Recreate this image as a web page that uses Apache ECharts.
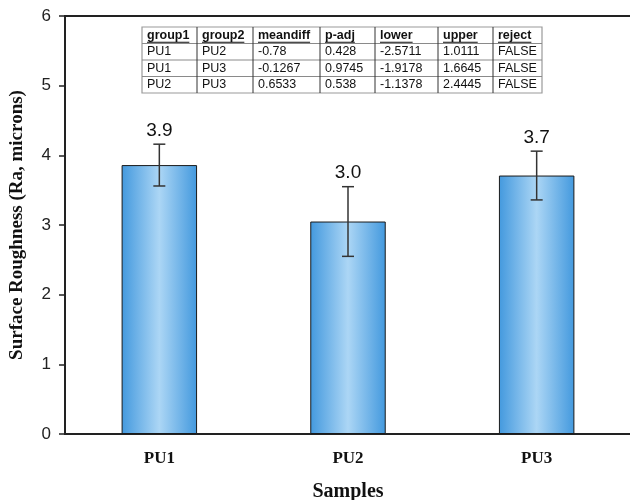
<!DOCTYPE html>
<html>
<head>
<meta charset="utf-8">
<script src="https://cdn.jsdelivr.net/npm/echarts@6/dist/echarts.min.js"></script>
<style>
  html, body { margin: 0; padding: 0; background: #fff; }
  #chart { width: 630px; height: 500px; }
</style>
</head>
<body>
<div id="chart"></div>
<script>
// Data
const samples = ['PU1', 'PU2', 'PU3'];
const roughness = [3.86, 3.05, 3.71];
const roughnessErr = [0.30, 0.50, 0.35];
const valueLabels = ['3.9', '3.0', '3.7'];
const yTicks = [0, 1, 2, 3, 4, 5, 6];

// Tukey table inset
const tableHeader = ['group1', 'group2', 'meandiff', 'p-adj', 'lower', 'upper', 'reject'];
const tableRows = [
  ['PU1', 'PU2', '-0.78', '0.428', '-2.5711', '1.0111', 'FALSE'],
  ['PU1', 'PU3', '-0.1267', '0.9745', '-1.9178', '1.6645', 'FALSE'],
  ['PU2', 'PU3', '0.6533', '0.538', '-1.1378', '2.4445', 'FALSE']
];

const chart = echarts.init(document.getElementById('chart'));

// Build table graphic
const colX = [142, 197, 253, 320, 375, 438, 493, 542];
const rowY = [27, 43.5, 60, 76.5, 93];
const tableFont = '12.5px "Liberation Sans", Arial, sans-serif';
const headFont = 'bold 12.5px "Liberation Sans", Arial, sans-serif';
const measure = document.createElement('canvas').getContext('2d');

const tableEls = [];
tableEls.push({
  type: 'rect',
  shape: { x: colX[0], y: rowY[0], width: colX[7] - colX[0], height: rowY[4] - rowY[0] },
  style: { fill: '#fff', stroke: '#9a9a9a', lineWidth: 1.2 },
  z: 10
});
for (let i = 1; i < rowY.length - 1; i++) {
  tableEls.push({
    type: 'line',
    shape: { x1: colX[0], y1: rowY[i], x2: colX[7], y2: rowY[i] },
    style: { stroke: '#8a8a8a', lineWidth: 1 },
    z: 11
  });
}
for (let j = 1; j < colX.length - 1; j++) {
  tableEls.push({
    type: 'line',
    shape: { x1: colX[j], y1: rowY[0], x2: colX[j], y2: rowY[4] },
    style: { stroke: '#333', lineWidth: 1 },
    z: 11
  });
}
const allRows = [tableHeader].concat(tableRows);
allRows.forEach((row, r) => {
  row.forEach((cell, c) => {
    const font = r === 0 ? headFont : tableFont;
    const tx = colX[c] + 5;
    const ty = (rowY[r] + rowY[r + 1]) / 2;
    tableEls.push({
      type: 'text',
      style: {
        x: tx, y: ty, text: cell, font: font, fill: '#111',
        textAlign: 'left', textVerticalAlign: 'middle'
      },
      z: 12
    });
    if (r === 0) {
      measure.font = font;
      const w = measure.measureText(cell).width;
      tableEls.push({
        type: 'line',
        shape: { x1: tx, y1: ty + 7, x2: tx + w, y2: ty + 7 },
        style: { stroke: '#111', lineWidth: 1 },
        z: 12
      });
    }
  });
});

const barGradient = new echarts.graphic.LinearGradient(0, 0, 1, 0, [
  { offset: 0, color: '#4399de' },
  { offset: 0.5, color: '#acd6f5' },
  { offset: 1, color: '#4399de' }
]);

const option = {
  animation: false,
  backgroundColor: '#fff',
  grid: {
    left: 65, top: 16, bottom: 66, right: -1,
    outerBoundsMode: 'none',
    containLabel: false,
    show: true, borderColor: '#222', borderWidth: 2
  },
  xAxis: [
    {
      type: 'category',
      data: samples,
      name: 'Samples',
      nameLocation: 'middle',
      nameGap: 48,
      nameTextStyle: { fontFamily: '"Liberation Serif", "Times New Roman", serif', fontWeight: 'bold', fontSize: 20, color: '#111' },
      axisLine: { lineStyle: { color: '#222', width: 2 } },
      axisTick: { alignWithLabel: true, length: 6, lineStyle: { color: '#222', width: 1.5 } },
      axisLabel: { margin: 16, fontFamily: '"Liberation Serif", "Times New Roman", serif', fontWeight: 'bold', fontSize: 17, color: '#111' }
    },
    {
      type: 'category',
      data: samples,
      position: 'bottom',
      axisLine: { show: false },
      axisTick: { length: 4, lineStyle: { color: '#222', width: 1.5 } },
      axisLabel: { show: false }
    }
  ],
  yAxis: {
    type: 'value',
    min: yTicks[0],
    max: yTicks[yTicks.length - 1],
    interval: 1,
    name: 'Surface Roughness (Ra, microns)',
    nameLocation: 'middle',
    nameGap: 38,
    nameTextStyle: { fontFamily: '"Liberation Serif", "Times New Roman", serif', fontWeight: 'bold', fontSize: 19, color: '#111' },
    axisLine: { show: true, lineStyle: { color: '#222', width: 2 } },
    axisTick: { show: true, length: 6, lineStyle: { color: '#222', width: 1.5 } },
    axisLabel: { margin: 14, fontFamily: '"Liberation Sans", Arial, sans-serif', fontSize: 17, color: '#222' },
    splitLine: { show: false }
  },
  series: [
    {
      type: 'bar',
      data: roughness,
      barWidth: '40%',
      itemStyle: { color: barGradient, borderColor: '#1a1a1a', borderWidth: 1 },
      z: 2
    },
    {
      type: 'custom',
      data: roughness.map((v, i) => [i, v, roughnessErr[i]]),
      renderItem: function (params, api) {
        const i = api.value(0);
        const v = api.value(1);
        const e = api.value(2);
        const top = api.coord([i, v + e]);
        const bot = api.coord([i, v - e]);
        const hw = 6;
        return {
          type: 'group',
          children: [
            { type: 'line', shape: { x1: top[0], y1: top[1], x2: bot[0], y2: bot[1] }, style: { stroke: '#333', lineWidth: 1.5 } },
            { type: 'line', shape: { x1: top[0] - hw, y1: top[1], x2: top[0] + hw, y2: top[1] }, style: { stroke: '#333', lineWidth: 1.5 } },
            { type: 'line', shape: { x1: bot[0] - hw, y1: bot[1], x2: bot[0] + hw, y2: bot[1] }, style: { stroke: '#333', lineWidth: 1.5 } },
            {
              type: 'text',
              style: {
                x: top[0], y: top[1] - 4, text: valueLabels[params.dataIndex],
                font: '19px "Liberation Sans", Arial, sans-serif', fill: '#111',
                textAlign: 'center', textVerticalAlign: 'bottom'
              }
            }
          ]
        };
      },
      z: 5
    }
  ],
  graphic: tableEls
};

chart.setOption(option);
</script>
</body>
</html>
